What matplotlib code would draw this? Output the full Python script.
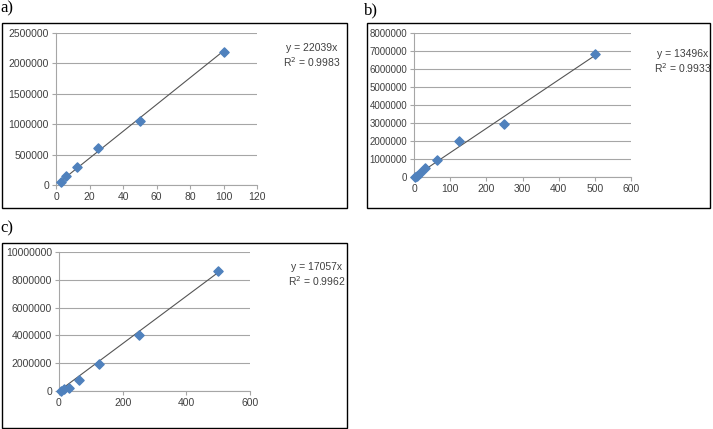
import matplotlib
matplotlib.use("Agg")
import matplotlib.pyplot as plt
from matplotlib.patches import Rectangle

W, H = 713, 429

# Data
a_x = [3.125, 6.25, 12.5, 25, 50, 100]
a_y = [50000, 140000, 290000, 610000, 1060000, 2190000]
a_slope = 22039
a_r2 = "0.9983"

b_x = [3.9, 7.8, 15.6, 31.25, 62.5, 125, 250, 500]
b_y = [-10000, 60000, 200000, 480000, 950000, 1980000, 2970000, 6850000]
b_slope = 13496
b_r2 = "0.9933"

c_x = [7.8, 15.6, 31.25, 62.5, 125, 250, 500]
c_y = [-10000, 150000, 200000, 800000, 1950000, 4050000, 8650000]
c_slope = 17057
c_r2 = "0.9962"

BLUE = "#4F81BD"
TXT = "#404040"
GRID = "#A6A6A6"
FONT = "Liberation Sans"


def px_axes(fig, left, top, right, bottom):
    return fig.add_axes([left / W, 1 - bottom / H, (right - left) / W, (bottom - top) / H])


def border(fig, left, top, right, bottom):
    fig.add_artist(Rectangle((left / W, 1 - bottom / H), (right - left) / W, (bottom - top) / H,
                             transform=fig.transFigure, fill=False, edgecolor="black", lw=1.0))


def panel(ax, xs, ys, slope, xlim, xticks, ylim, yticks, fs=7.5):
    ax.set_xlim(*xlim)
    ax.set_ylim(*ylim)
    ax.set_xticks(xticks)
    ax.set_yticks(yticks)
    ax.set_xticklabels([str(t) for t in xticks], fontsize=7.5, color=TXT, family=FONT)
    ax.set_yticklabels([str(t) for t in yticks], fontsize=fs, color=TXT, family=FONT)
    for s in ["top", "right"]:
        ax.spines[s].set_visible(False)
    for s in ["left", "bottom"]:
        ax.spines[s].set_color(GRID)
        ax.spines[s].set_linewidth(0.8)
    ax.tick_params(axis="x", length=3, color=GRID, pad=2)
    ax.tick_params(axis="y", length=3, color=GRID, pad=2)
    ax.yaxis.grid(True, color=GRID, lw=0.8)
    ax.set_axisbelow(True)
    lx = [min(xs), max(xs)]
    ax.plot(lx, [slope * v for v in lx], color="#555555", lw=0.8, zorder=2)
    ax.scatter(xs, ys, marker="D", s=22, color=BLUE, zorder=3, clip_on=False)


def eq(fig, x, y, slope, r2):
    fig.text(x / W, 1 - y / H, f"y = {slope}x", fontsize=7.5, color=TXT, family=FONT, ha="center", va="center")
    fig.text(x / W, 1 - (y + 14) / H, f"R$^2$ = {r2}", fontsize=7.5, color=TXT, family=FONT, ha="center", va="center")


fig = plt.figure(figsize=(W / 100, H / 100), dpi=100)
fig.patch.set_facecolor("white")

# a)
border(fig, 2, 23, 347, 208)
ax = px_axes(fig, 56, 33, 257, 185)
panel(ax, a_x, a_y, a_slope, (0, 120), [0, 20, 40, 60, 80, 100, 120],
      (0, 2500000), [0, 500000, 1000000, 1500000, 2000000, 2500000])
eq(fig, 312, 48, a_slope, a_r2)
fig.text(0, 1 - 8 / H, "a)", fontsize=12, family="Liberation Serif", ha="left", va="center")

# b)
border(fig, 367, 23, 710, 208)
ax = px_axes(fig, 414, 33, 631, 177)
panel(ax, b_x, b_y, b_slope, (0, 600), [0, 100, 200, 300, 400, 500, 600],
      (0, 8000000), [0, 1000000, 2000000, 3000000, 4000000, 5000000, 6000000, 7000000, 8000000], fs=7)
eq(fig, 683, 54, b_slope, b_r2)
fig.text(364 / W, 1 - 10 / H, "b)", fontsize=12, family="Liberation Serif", ha="left", va="center")

# c)
border(fig, 2, 243, 347, 428)
ax = px_axes(fig, 59, 252, 250, 391)
panel(ax, c_x, c_y, c_slope, (0, 600), [0, 200, 400, 600],
      (0, 10000000), [0, 2000000, 4000000, 6000000, 8000000, 10000000])
eq(fig, 317, 267, c_slope, c_r2)
fig.text(0, 1 - 228 / H, "c)", fontsize=12, family="Liberation Serif", ha="left", va="center")

fig.savefig("out.png", dpi=100, facecolor="white")
